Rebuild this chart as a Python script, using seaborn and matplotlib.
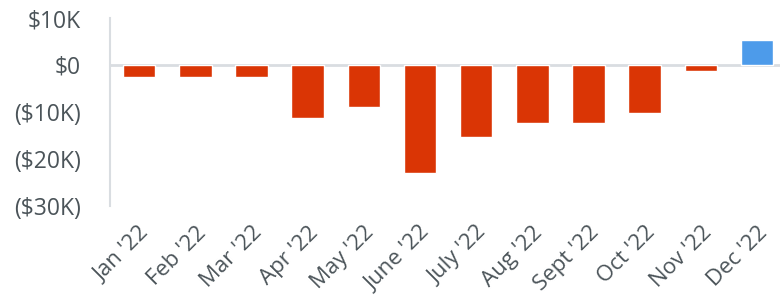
import matplotlib
matplotlib.use('Agg')
import matplotlib.pyplot as plt
import seaborn as sns
import pandas as pd

months = ["Jan '22", "Feb '22", "Mar '22", "Apr '22", "May '22", "June '22",
          "July '22", "Aug '22", "Sept '22", "Oct '22", "Nov '22", "Dec '22"]
net_values = [-2500, -2500, -2500, -11400, -8900, -23000,
              -15300, -12300, -12300, -10200, -1200, 5300]
y_ticks = [10000, 0, -10000, -20000, -30000]
y_tick_labels = ["$10K", "$0", "($10K)", "($20K)", "($30K)"]

neg_color = "#DA3505"
pos_color = "#4D9BEA"
text_color = "#4B5459"
grid_color = "#D9DDE1"

sns.set_style("white")
plt.rcParams['font.family'] = ['Open Sans', 'DejaVu Sans']

df = pd.DataFrame({"month": months, "value": net_values})
palette = {m: (pos_color if v > 0 else neg_color) for m, v in zip(months, net_values)}

fig = plt.figure(figsize=(7.8, 3.03), dpi=100)
ax = fig.add_axes([0.141, 0.3215, 0.859, 0.619])
sns.barplot(data=df, x="month", y="value", hue="month", palette=palette,
            legend=False, width=0.58, saturation=1, ax=ax)

ax.axhline(0, color=grid_color, lw=2, zorder=0.5)
ax.set_xlim(-0.52, 11.41)
ax.set_ylim(-30000, 10000)
ax.set_yticks(y_ticks)
ax.set_yticklabels(y_tick_labels)
ax.set_xlabel("")
ax.set_ylabel("")

for s in ["top", "right", "bottom"]:
    ax.spines[s].set_visible(False)
ax.spines["left"].set_color(grid_color)
ax.spines["left"].set_linewidth(1.5)

ax.tick_params(axis="y", length=0, pad=21, labelsize=16.5, labelcolor=text_color)
ax.tick_params(axis="x", length=0, pad=12, labelsize=16, labelcolor=text_color)
plt.setp(ax.get_xticklabels(), rotation=45, ha="right", rotation_mode="anchor")

plt.savefig("out.png", dpi=100)
